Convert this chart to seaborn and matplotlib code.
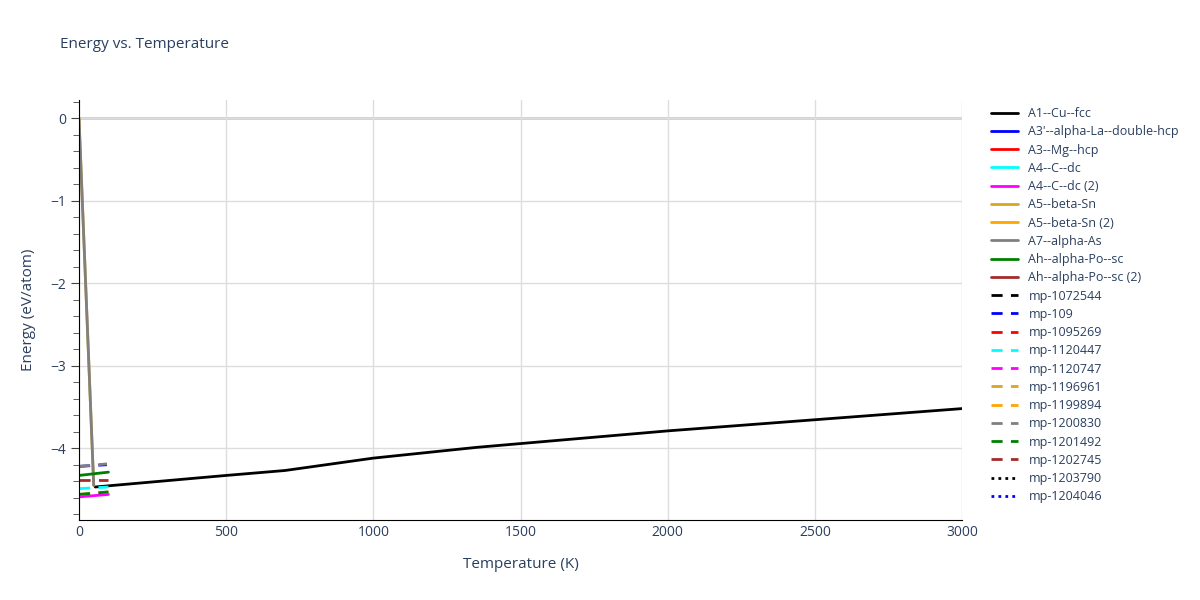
import matplotlib
matplotlib.use("Agg")
import matplotlib.pyplot as plt
import seaborn as sns
import pandas as pd
from matplotlib.ticker import MultipleLocator

sns.set_style("white")
plt.rcParams['font.family'] = ['Open Sans', 'DejaVu Sans']

names = ["A1--Cu--fcc", "A3'--alpha-La--double-hcp", "A3--Mg--hcp", "A4--C--dc", "A4--C--dc (2)",
         "A5--beta-Sn", "A5--beta-Sn (2)", "A7--alpha-As", "Ah--alpha-Po--sc", "Ah--alpha-Po--sc (2)",
         "mp-1072544", "mp-109", "mp-1095269", "mp-1120447", "mp-1120747", "mp-1196961",
         "mp-1199894", "mp-1200830", "mp-1201492", "mp-1202745", "mp-1203790", "mp-1204046"]
colors = ["black", "blue", "red", "cyan", "magenta", "goldenrod", "orange", "gray", "green", "brown",
          "black", "blue", "red", "cyan", "magenta", "goldenrod", "orange", "gray", "green", "brown",
          "black", "blue"]
styles = ["-"] * 10 + [(0, (4, 3))] * 10 + [(0, (1, 1.5))] * 2

temps = {
    "A1--Cu--fcc": [55, 500, 700, 1000, 1350, 2000, 3000],
    "A5--beta-Sn": [0, 50],
    "A7--alpha-As": [0, 50],
    "Ah--alpha-Po--sc": [0, 100],
    "A4--C--dc (2)": [0, 100],
    "mp-109": [0, 95],
    "mp-1200830": [0, 95],
    "mp-1202745": [0, 100],
    "mp-1120447": [0, 100],
    "mp-1196961": [0, 100],
    "mp-1201492": [0, 100],
}
energies = {
    "A1--Cu--fcc": [-4.47, -4.33, -4.27, -4.12, -3.99, -3.79, -3.52],
    "A5--beta-Sn": [0.0, -4.45],
    "A7--alpha-As": [0.0, -4.45],
    "Ah--alpha-Po--sc": [-4.33, -4.29],
    "A4--C--dc (2)": [-4.59, -4.56],
    "mp-109": [-4.22, -4.20],
    "mp-1200830": [-4.22, -4.19],
    "mp-1202745": [-4.38, -4.38],
    "mp-1120447": [-4.49, -4.47],
    "mp-1196961": [-4.56, -4.53],
    "mp-1201492": [-4.56, -4.53],
}

fig = plt.figure(figsize=(12, 6), dpi=100)
ax = fig.add_axes([79/1200, 80/600, 883/1200, 420/600])
for n, c, s in zip(names, colors, styles):
    if n in temps:
        df = pd.DataFrame({"T": temps[n], "E": energies[n]})
        sns.lineplot(data=df, x="T", y="E", ax=ax, color=c, linestyle=s, linewidth=2, label=n)
    else:
        ax.plot([], [], color=c, linestyle=s, linewidth=2, label=n)

ax.set_xlim(0, 3000)
ax.set_ylim(-4.87, 0.22)
ax.xaxis.set_major_locator(MultipleLocator(500))
ax.yaxis.set_minor_locator(MultipleLocator(0.2))
ax.grid(True, which="major", color="#dddddd", linewidth=1)
ax.axhline(0, color="#cccccc", linewidth=2, zorder=0)
for sp in ["top", "right"]:
    ax.spines[sp].set_visible(False)
ax.spines["left"].set_color("black")
ax.spines["bottom"].set_color("black")
ax.tick_params(axis="y", which="both", direction="out", left=True, color="#444444", labelcolor="#2a3f5f")
ax.tick_params(axis="y", which="major", length=6)
ax.tick_params(axis="y", which="minor", length=4)
ax.tick_params(axis="x", labelcolor="#2a3f5f", bottom=True, length=0)
ax.set_yticks([0, -1, -2, -3, -4])
ax.set_yticklabels(["0", "−1", "−2", "−3", "−4"])
ax.set_xlabel("Temperature (K)", color="#2a3f5f", fontsize=11, labelpad=12)
ax.set_ylabel("Energy (eV/atom)", color="#2a3f5f", fontsize=11, labelpad=10)
fig.text(60/1200, 1 - 45/600, "Energy vs. Temperature", color="#2a3f5f", fontsize=11, va="center")

leg = ax.legend(loc="upper left", bbox_to_anchor=(1.02, 1.01), frameon=False,
                fontsize=9, labelspacing=0.42, handlelength=2.2, labelcolor="#2a3f5f")
fig.savefig("out.png", dpi=100)
